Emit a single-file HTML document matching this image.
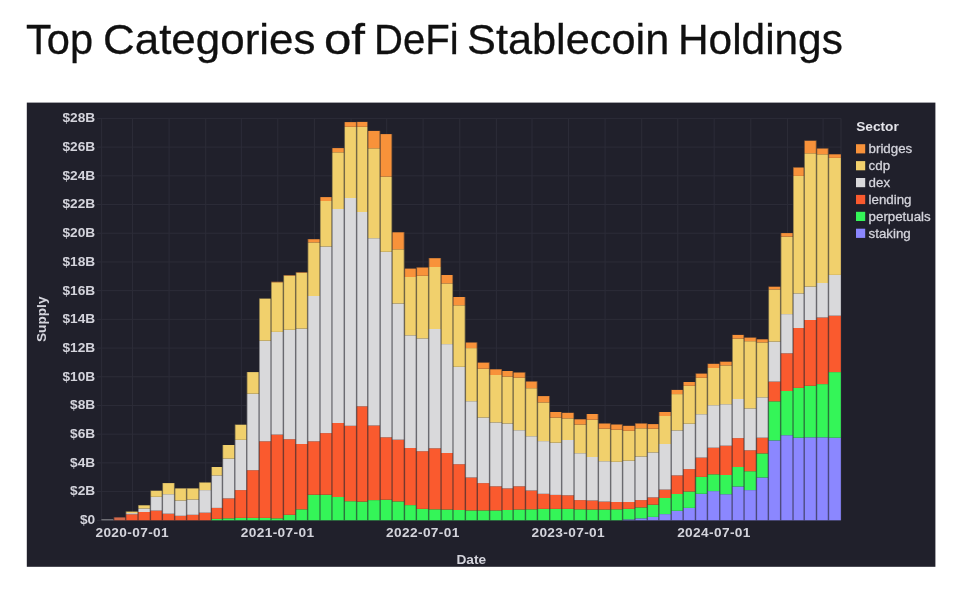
<!DOCTYPE html>
<html><head><meta charset="utf-8"><title>Top Categories of DeFi Stablecoin Holdings</title>
<style>
html,body{margin:0;padding:0;background:#ffffff;}
body{width:972px;height:597px;overflow:hidden;position:relative;font-family:"Liberation Sans",sans-serif;}
h1{margin:0;font-size:0;}
h1 span{position:absolute;top:14.2px;font:400 43px/50px "Liberation Sans",sans-serif;color:#101010;-webkit-text-stroke:0.3px #101010;white-space:nowrap;transform-origin:0 0;}
svg{position:absolute;left:0;top:0;filter:blur(0.6px);}
svg text{font-family:"Liberation Sans",sans-serif;}
</style></head><body>
<h1><span style="left:26.23px;transform:scaleX(0.9672)">Top</span> <span style="left:102.56px;transform:scaleX(1.0215)">Categories</span> <span style="left:324.41px;transform:scaleX(1.1441)">of</span> <span style="left:373.77px;transform:scaleX(0.9321)">DeFi</span> <span style="left:467.39px;transform:scaleX(1.0071)">Stablecoin</span> <span style="left:677.96px;transform:scaleX(0.9852)">Holdings</span></h1>
<svg width="972" height="597" viewBox="0 0 972 597">
<rect x="26.8" y="102.6" width="908.6" height="464.2" fill="#20202b"/>
<g stroke="#2c2c38" stroke-width="1" fill="none">
<line x1="97" x2="841" y1="520.30" y2="520.30"/>
<line x1="97" x2="841" y1="491.59" y2="491.59"/>
<line x1="97" x2="841" y1="462.89" y2="462.89"/>
<line x1="97" x2="841" y1="434.18" y2="434.18"/>
<line x1="97" x2="841" y1="405.47" y2="405.47"/>
<line x1="97" x2="841" y1="376.76" y2="376.76"/>
<line x1="97" x2="841" y1="348.06" y2="348.06"/>
<line x1="97" x2="841" y1="319.35" y2="319.35"/>
<line x1="97" x2="841" y1="290.64" y2="290.64"/>
<line x1="97" x2="841" y1="261.94" y2="261.94"/>
<line x1="97" x2="841" y1="233.23" y2="233.23"/>
<line x1="97" x2="841" y1="204.52" y2="204.52"/>
<line x1="97" x2="841" y1="175.81" y2="175.81"/>
<line x1="97" x2="841" y1="147.11" y2="147.11"/>
<line x1="97" x2="841" y1="118.40" y2="118.40"/>
<line x1="132.46" x2="132.46" y1="118.40" y2="520.30"/>
<line x1="169.09" x2="169.09" y1="118.40" y2="520.30"/>
<line x1="205.72" x2="205.72" y1="118.40" y2="520.30"/>
<line x1="241.36" x2="241.36" y1="118.40" y2="520.30"/>
<line x1="277.79" x2="277.79" y1="118.40" y2="520.30"/>
<line x1="314.42" x2="314.42" y1="118.40" y2="520.30"/>
<line x1="351.05" x2="351.05" y1="118.40" y2="520.30"/>
<line x1="386.69" x2="386.69" y1="118.40" y2="520.30"/>
<line x1="423.12" x2="423.12" y1="118.40" y2="520.30"/>
<line x1="459.75" x2="459.75" y1="118.40" y2="520.30"/>
<line x1="496.39" x2="496.39" y1="118.40" y2="520.30"/>
<line x1="532.02" x2="532.02" y1="118.40" y2="520.30"/>
<line x1="568.46" x2="568.46" y1="118.40" y2="520.30"/>
<line x1="605.09" x2="605.09" y1="118.40" y2="520.30"/>
<line x1="641.72" x2="641.72" y1="118.40" y2="520.30"/>
<line x1="677.75" x2="677.75" y1="118.40" y2="520.30"/>
<line x1="714.18" x2="714.18" y1="118.40" y2="520.30"/>
<line x1="750.82" x2="750.82" y1="118.40" y2="520.30"/>
<line x1="787.45" x2="787.45" y1="118.40" y2="520.30"/>
<line x1="823.08" x2="823.08" y1="118.40" y2="520.30"/>
<line x1="101.60" x2="101.60" y1="118.40" y2="520.30"/>
<line x1="841" x2="841" y1="118.40" y2="520.30"/>
</g>
<g shape-rendering="auto">
<rect x="101.40" y="519.30" width="12.39" height="1.00" fill="#8f8f92"/>
<rect x="113.74" y="517.40" width="12.00" height="2.90" fill="#d4694a"/>
<rect x="125.69" y="514.30" width="12.39" height="6.00" fill="#fa5a2e"/>
<rect x="125.69" y="513.10" width="12.39" height="1.20" fill="#d9d9db"/>
<rect x="125.69" y="511.60" width="12.39" height="1.50" fill="#f1d06c"/>
<rect x="138.03" y="512.00" width="12.39" height="8.30" fill="#fa5a2e"/>
<rect x="138.03" y="508.50" width="12.39" height="3.50" fill="#d9d9db"/>
<rect x="138.03" y="505.30" width="12.39" height="3.20" fill="#f1d06c"/>
<rect x="150.37" y="510.60" width="12.00" height="9.70" fill="#fa5a2e"/>
<rect x="150.37" y="496.80" width="12.00" height="13.80" fill="#d9d9db"/>
<rect x="150.37" y="490.70" width="12.00" height="6.10" fill="#f1d06c"/>
<rect x="162.32" y="513.70" width="12.39" height="6.60" fill="#fa5a2e"/>
<rect x="162.32" y="494.20" width="12.39" height="19.50" fill="#d9d9db"/>
<rect x="162.32" y="483.10" width="12.39" height="11.10" fill="#f1d06c"/>
<rect x="174.66" y="515.80" width="12.00" height="4.50" fill="#fa5a2e"/>
<rect x="174.66" y="500.50" width="12.00" height="15.30" fill="#d9d9db"/>
<rect x="174.66" y="488.40" width="12.00" height="12.10" fill="#f1d06c"/>
<rect x="186.61" y="514.80" width="12.39" height="5.50" fill="#fa5a2e"/>
<rect x="186.61" y="499.50" width="12.39" height="15.30" fill="#d9d9db"/>
<rect x="186.61" y="488.40" width="12.39" height="11.10" fill="#f1d06c"/>
<rect x="198.95" y="512.70" width="12.39" height="7.60" fill="#fa5a2e"/>
<rect x="198.95" y="490.10" width="12.39" height="22.60" fill="#d9d9db"/>
<rect x="198.95" y="482.50" width="12.39" height="7.60" fill="#f1d06c"/>
<rect x="211.29" y="518.90" width="11.20" height="1.40" fill="#34f558"/>
<rect x="211.29" y="507.90" width="11.20" height="11.00" fill="#fa5a2e"/>
<rect x="211.29" y="475.40" width="11.20" height="32.50" fill="#d9d9db"/>
<rect x="211.29" y="467.00" width="11.20" height="8.40" fill="#f1d06c"/>
<rect x="222.44" y="518.30" width="12.39" height="2.00" fill="#34f558"/>
<rect x="222.44" y="498.40" width="12.39" height="19.90" fill="#fa5a2e"/>
<rect x="222.44" y="458.60" width="12.39" height="39.80" fill="#d9d9db"/>
<rect x="222.44" y="445.00" width="12.39" height="13.60" fill="#f1d06c"/>
<rect x="234.79" y="517.90" width="12.00" height="2.40" fill="#34f558"/>
<rect x="234.79" y="490.10" width="12.00" height="27.80" fill="#fa5a2e"/>
<rect x="234.79" y="439.80" width="12.00" height="50.30" fill="#d9d9db"/>
<rect x="234.79" y="424.70" width="12.00" height="15.10" fill="#f1d06c"/>
<rect x="246.73" y="517.90" width="12.39" height="2.40" fill="#34f558"/>
<rect x="246.73" y="470.20" width="12.39" height="47.70" fill="#fa5a2e"/>
<rect x="246.73" y="393.70" width="12.39" height="76.50" fill="#d9d9db"/>
<rect x="246.73" y="372.10" width="12.39" height="21.60" fill="#f1d06c"/>
<rect x="259.07" y="517.90" width="12.00" height="2.40" fill="#34f558"/>
<rect x="259.07" y="441.30" width="12.00" height="76.60" fill="#fa5a2e"/>
<rect x="259.07" y="340.70" width="12.00" height="100.60" fill="#d9d9db"/>
<rect x="259.07" y="298.60" width="12.00" height="42.10" fill="#f1d06c"/>
<rect x="271.02" y="518.30" width="12.39" height="2.00" fill="#34f558"/>
<rect x="271.02" y="434.60" width="12.39" height="83.70" fill="#fa5a2e"/>
<rect x="271.02" y="331.90" width="12.39" height="102.70" fill="#d9d9db"/>
<rect x="271.02" y="282.30" width="12.39" height="49.60" fill="#f1d06c"/>
<rect x="271.02" y="281.80" width="12.39" height="0.50" fill="#f8923a"/>
<rect x="283.36" y="514.80" width="12.39" height="5.50" fill="#34f558"/>
<rect x="283.36" y="439.20" width="12.39" height="75.60" fill="#fa5a2e"/>
<rect x="283.36" y="329.80" width="12.39" height="109.40" fill="#d9d9db"/>
<rect x="283.36" y="275.70" width="12.39" height="54.10" fill="#f1d06c"/>
<rect x="283.36" y="275.20" width="12.39" height="0.50" fill="#f8923a"/>
<rect x="295.71" y="509.30" width="12.00" height="11.00" fill="#34f558"/>
<rect x="295.71" y="444.00" width="12.00" height="65.30" fill="#fa5a2e"/>
<rect x="295.71" y="328.60" width="12.00" height="115.40" fill="#d9d9db"/>
<rect x="295.71" y="272.80" width="12.00" height="55.80" fill="#f1d06c"/>
<rect x="295.71" y="272.30" width="12.00" height="0.50" fill="#f8923a"/>
<rect x="307.65" y="494.70" width="12.39" height="25.60" fill="#34f558"/>
<rect x="307.65" y="441.30" width="12.39" height="53.40" fill="#fa5a2e"/>
<rect x="307.65" y="296.00" width="12.39" height="145.30" fill="#d9d9db"/>
<rect x="307.65" y="242.40" width="12.39" height="53.60" fill="#f1d06c"/>
<rect x="307.65" y="239.20" width="12.39" height="3.20" fill="#f8923a"/>
<rect x="319.99" y="494.70" width="12.00" height="25.60" fill="#34f558"/>
<rect x="319.99" y="433.10" width="12.00" height="61.60" fill="#fa5a2e"/>
<rect x="319.99" y="246.50" width="12.00" height="186.60" fill="#d9d9db"/>
<rect x="319.99" y="201.00" width="12.00" height="45.50" fill="#f1d06c"/>
<rect x="319.99" y="197.10" width="12.00" height="3.90" fill="#f8923a"/>
<rect x="331.94" y="497.00" width="12.39" height="23.30" fill="#34f558"/>
<rect x="331.94" y="423.00" width="12.39" height="74.00" fill="#fa5a2e"/>
<rect x="331.94" y="209.00" width="12.39" height="214.00" fill="#d9d9db"/>
<rect x="331.94" y="152.30" width="12.39" height="56.70" fill="#f1d06c"/>
<rect x="331.94" y="148.10" width="12.39" height="4.20" fill="#f8923a"/>
<rect x="344.28" y="501.20" width="12.39" height="19.10" fill="#34f558"/>
<rect x="344.28" y="425.80" width="12.39" height="75.40" fill="#fa5a2e"/>
<rect x="344.28" y="198.00" width="12.39" height="227.80" fill="#d9d9db"/>
<rect x="344.28" y="126.80" width="12.39" height="71.20" fill="#f1d06c"/>
<rect x="344.28" y="122.10" width="12.39" height="4.70" fill="#f8923a"/>
<rect x="356.63" y="501.60" width="11.20" height="18.70" fill="#34f558"/>
<rect x="356.63" y="406.30" width="11.20" height="95.30" fill="#fa5a2e"/>
<rect x="356.63" y="212.00" width="11.20" height="194.30" fill="#d9d9db"/>
<rect x="356.63" y="126.80" width="11.20" height="85.20" fill="#f1d06c"/>
<rect x="356.63" y="121.90" width="11.20" height="4.90" fill="#f8923a"/>
<rect x="367.78" y="500.10" width="12.39" height="20.20" fill="#34f558"/>
<rect x="367.78" y="425.50" width="12.39" height="74.60" fill="#fa5a2e"/>
<rect x="367.78" y="238.20" width="12.39" height="187.30" fill="#d9d9db"/>
<rect x="367.78" y="148.30" width="12.39" height="89.90" fill="#f1d06c"/>
<rect x="367.78" y="130.90" width="12.39" height="17.40" fill="#f8923a"/>
<rect x="380.12" y="499.70" width="12.00" height="20.60" fill="#34f558"/>
<rect x="380.12" y="437.30" width="12.00" height="62.40" fill="#fa5a2e"/>
<rect x="380.12" y="251.80" width="12.00" height="185.50" fill="#d9d9db"/>
<rect x="380.12" y="176.60" width="12.00" height="75.20" fill="#f1d06c"/>
<rect x="380.12" y="134.10" width="12.00" height="42.50" fill="#f8923a"/>
<rect x="392.06" y="501.40" width="12.39" height="18.90" fill="#34f558"/>
<rect x="392.06" y="439.70" width="12.39" height="61.70" fill="#fa5a2e"/>
<rect x="392.06" y="303.50" width="12.39" height="136.20" fill="#d9d9db"/>
<rect x="392.06" y="249.30" width="12.39" height="54.20" fill="#f1d06c"/>
<rect x="392.06" y="232.30" width="12.39" height="17.00" fill="#f8923a"/>
<rect x="404.41" y="505.10" width="12.00" height="15.20" fill="#34f558"/>
<rect x="404.41" y="448.00" width="12.00" height="57.10" fill="#fa5a2e"/>
<rect x="404.41" y="335.30" width="12.00" height="112.70" fill="#d9d9db"/>
<rect x="404.41" y="277.00" width="12.00" height="58.30" fill="#f1d06c"/>
<rect x="404.41" y="268.60" width="12.00" height="8.40" fill="#f8923a"/>
<rect x="416.35" y="508.90" width="12.39" height="11.40" fill="#34f558"/>
<rect x="416.35" y="451.20" width="12.39" height="57.70" fill="#fa5a2e"/>
<rect x="416.35" y="338.40" width="12.39" height="112.80" fill="#d9d9db"/>
<rect x="416.35" y="275.80" width="12.39" height="62.60" fill="#f1d06c"/>
<rect x="416.35" y="267.50" width="12.39" height="8.30" fill="#f8923a"/>
<rect x="428.69" y="509.30" width="12.39" height="11.00" fill="#34f558"/>
<rect x="428.69" y="448.30" width="12.39" height="61.00" fill="#fa5a2e"/>
<rect x="428.69" y="329.00" width="12.39" height="119.30" fill="#d9d9db"/>
<rect x="428.69" y="267.00" width="12.39" height="62.00" fill="#f1d06c"/>
<rect x="428.69" y="258.20" width="12.39" height="8.80" fill="#f8923a"/>
<rect x="441.04" y="509.50" width="12.00" height="10.80" fill="#34f558"/>
<rect x="441.04" y="453.00" width="12.00" height="56.50" fill="#fa5a2e"/>
<rect x="441.04" y="344.10" width="12.00" height="108.90" fill="#d9d9db"/>
<rect x="441.04" y="283.40" width="12.00" height="60.70" fill="#f1d06c"/>
<rect x="441.04" y="275.00" width="12.00" height="8.40" fill="#f8923a"/>
<rect x="452.98" y="510.00" width="12.39" height="10.30" fill="#34f558"/>
<rect x="452.98" y="464.20" width="12.39" height="45.80" fill="#fa5a2e"/>
<rect x="452.98" y="366.80" width="12.39" height="97.40" fill="#d9d9db"/>
<rect x="452.98" y="305.30" width="12.39" height="61.50" fill="#f1d06c"/>
<rect x="452.98" y="297.00" width="12.39" height="8.30" fill="#f8923a"/>
<rect x="465.33" y="510.40" width="12.00" height="9.90" fill="#34f558"/>
<rect x="465.33" y="477.50" width="12.00" height="32.90" fill="#fa5a2e"/>
<rect x="465.33" y="401.20" width="12.00" height="76.30" fill="#d9d9db"/>
<rect x="465.33" y="348.10" width="12.00" height="53.10" fill="#f1d06c"/>
<rect x="465.33" y="342.50" width="12.00" height="5.60" fill="#f8923a"/>
<rect x="477.27" y="510.40" width="12.39" height="9.90" fill="#34f558"/>
<rect x="477.27" y="483.10" width="12.39" height="27.30" fill="#fa5a2e"/>
<rect x="477.27" y="417.50" width="12.39" height="65.60" fill="#d9d9db"/>
<rect x="477.27" y="368.70" width="12.39" height="48.80" fill="#f1d06c"/>
<rect x="477.27" y="362.60" width="12.39" height="6.10" fill="#f8923a"/>
<rect x="489.61" y="510.40" width="12.39" height="9.90" fill="#34f558"/>
<rect x="489.61" y="486.30" width="12.39" height="24.10" fill="#fa5a2e"/>
<rect x="489.61" y="422.40" width="12.39" height="63.90" fill="#d9d9db"/>
<rect x="489.61" y="375.00" width="12.39" height="47.40" fill="#f1d06c"/>
<rect x="489.61" y="369.30" width="12.39" height="5.70" fill="#f8923a"/>
<rect x="501.96" y="510.00" width="11.20" height="10.30" fill="#34f558"/>
<rect x="501.96" y="488.40" width="11.20" height="21.60" fill="#fa5a2e"/>
<rect x="501.96" y="423.50" width="11.20" height="64.90" fill="#d9d9db"/>
<rect x="501.96" y="376.60" width="11.20" height="46.90" fill="#f1d06c"/>
<rect x="501.96" y="371.00" width="11.20" height="5.60" fill="#f8923a"/>
<rect x="513.11" y="509.50" width="12.39" height="10.80" fill="#34f558"/>
<rect x="513.11" y="486.30" width="12.39" height="23.20" fill="#fa5a2e"/>
<rect x="513.11" y="430.20" width="12.39" height="56.10" fill="#d9d9db"/>
<rect x="513.11" y="377.70" width="12.39" height="52.50" fill="#f1d06c"/>
<rect x="513.11" y="372.50" width="12.39" height="5.20" fill="#f8923a"/>
<rect x="525.45" y="509.30" width="12.00" height="11.00" fill="#34f558"/>
<rect x="525.45" y="490.50" width="12.00" height="18.80" fill="#fa5a2e"/>
<rect x="525.45" y="436.20" width="12.00" height="54.30" fill="#d9d9db"/>
<rect x="525.45" y="388.20" width="12.00" height="48.00" fill="#f1d06c"/>
<rect x="525.45" y="381.50" width="12.00" height="6.70" fill="#f8923a"/>
<rect x="537.40" y="508.90" width="12.39" height="11.40" fill="#34f558"/>
<rect x="537.40" y="493.80" width="12.39" height="15.10" fill="#fa5a2e"/>
<rect x="537.40" y="441.10" width="12.39" height="52.70" fill="#d9d9db"/>
<rect x="537.40" y="402.40" width="12.39" height="38.70" fill="#f1d06c"/>
<rect x="537.40" y="396.10" width="12.39" height="6.30" fill="#f8923a"/>
<rect x="549.74" y="508.90" width="12.00" height="11.40" fill="#34f558"/>
<rect x="549.74" y="494.90" width="12.00" height="14.00" fill="#fa5a2e"/>
<rect x="549.74" y="442.70" width="12.00" height="52.20" fill="#d9d9db"/>
<rect x="549.74" y="417.60" width="12.00" height="25.10" fill="#f1d06c"/>
<rect x="549.74" y="412.00" width="12.00" height="5.60" fill="#f8923a"/>
<rect x="561.68" y="508.90" width="12.39" height="11.40" fill="#34f558"/>
<rect x="561.68" y="495.30" width="12.39" height="13.60" fill="#fa5a2e"/>
<rect x="561.68" y="440.00" width="12.39" height="55.30" fill="#d9d9db"/>
<rect x="561.68" y="418.40" width="12.39" height="21.60" fill="#f1d06c"/>
<rect x="561.68" y="412.80" width="12.39" height="5.60" fill="#f8923a"/>
<rect x="574.03" y="509.30" width="12.39" height="11.00" fill="#34f558"/>
<rect x="574.03" y="500.10" width="12.39" height="9.20" fill="#fa5a2e"/>
<rect x="574.03" y="453.20" width="12.39" height="46.90" fill="#d9d9db"/>
<rect x="574.03" y="424.50" width="12.39" height="28.70" fill="#f1d06c"/>
<rect x="574.03" y="419.30" width="12.39" height="5.20" fill="#f8923a"/>
<rect x="586.37" y="509.50" width="12.00" height="10.80" fill="#34f558"/>
<rect x="586.37" y="500.50" width="12.00" height="9.00" fill="#fa5a2e"/>
<rect x="586.37" y="457.00" width="12.00" height="43.50" fill="#d9d9db"/>
<rect x="586.37" y="419.70" width="12.00" height="37.30" fill="#f1d06c"/>
<rect x="586.37" y="414.00" width="12.00" height="5.70" fill="#f8923a"/>
<rect x="598.32" y="509.50" width="12.39" height="10.80" fill="#34f558"/>
<rect x="598.32" y="501.60" width="12.39" height="7.90" fill="#fa5a2e"/>
<rect x="598.32" y="461.20" width="12.39" height="40.40" fill="#d9d9db"/>
<rect x="598.32" y="428.70" width="12.39" height="32.50" fill="#f1d06c"/>
<rect x="598.32" y="423.50" width="12.39" height="5.20" fill="#f8923a"/>
<rect x="610.66" y="509.30" width="12.00" height="11.00" fill="#34f558"/>
<rect x="610.66" y="502.00" width="12.00" height="7.30" fill="#fa5a2e"/>
<rect x="610.66" y="461.80" width="12.00" height="40.20" fill="#d9d9db"/>
<rect x="610.66" y="429.70" width="12.00" height="32.10" fill="#f1d06c"/>
<rect x="610.66" y="424.50" width="12.00" height="5.20" fill="#f8923a"/>
<rect x="622.60" y="519.40" width="12.39" height="0.90" fill="#8b87ff"/>
<rect x="622.60" y="508.90" width="12.39" height="10.50" fill="#34f558"/>
<rect x="622.60" y="502.00" width="12.39" height="6.90" fill="#fa5a2e"/>
<rect x="622.60" y="460.70" width="12.39" height="41.30" fill="#d9d9db"/>
<rect x="622.60" y="430.80" width="12.39" height="29.90" fill="#f1d06c"/>
<rect x="622.60" y="425.80" width="12.39" height="5.00" fill="#f8923a"/>
<rect x="634.95" y="518.30" width="12.39" height="2.00" fill="#8b87ff"/>
<rect x="634.95" y="507.40" width="12.39" height="10.90" fill="#34f558"/>
<rect x="634.95" y="500.10" width="12.39" height="7.30" fill="#fa5a2e"/>
<rect x="634.95" y="456.50" width="12.39" height="43.60" fill="#d9d9db"/>
<rect x="634.95" y="428.30" width="12.39" height="28.20" fill="#f1d06c"/>
<rect x="634.95" y="423.50" width="12.39" height="4.80" fill="#f8923a"/>
<rect x="647.29" y="516.90" width="11.60" height="3.40" fill="#8b87ff"/>
<rect x="647.29" y="504.70" width="11.60" height="12.20" fill="#34f558"/>
<rect x="647.29" y="497.40" width="11.60" height="7.30" fill="#fa5a2e"/>
<rect x="647.29" y="452.40" width="11.60" height="45.00" fill="#d9d9db"/>
<rect x="647.29" y="428.70" width="11.60" height="23.70" fill="#f1d06c"/>
<rect x="647.29" y="424.10" width="11.60" height="4.60" fill="#f8923a"/>
<rect x="658.84" y="514.10" width="12.39" height="6.20" fill="#8b87ff"/>
<rect x="658.84" y="498.00" width="12.39" height="16.10" fill="#34f558"/>
<rect x="658.84" y="489.60" width="12.39" height="8.40" fill="#fa5a2e"/>
<rect x="658.84" y="444.00" width="12.39" height="45.60" fill="#d9d9db"/>
<rect x="658.84" y="416.00" width="12.39" height="28.00" fill="#f1d06c"/>
<rect x="658.84" y="412.00" width="12.39" height="4.00" fill="#f8923a"/>
<rect x="671.18" y="510.80" width="12.00" height="9.50" fill="#8b87ff"/>
<rect x="671.18" y="494.00" width="12.00" height="16.80" fill="#34f558"/>
<rect x="671.18" y="475.40" width="12.00" height="18.60" fill="#fa5a2e"/>
<rect x="671.18" y="430.40" width="12.00" height="45.00" fill="#d9d9db"/>
<rect x="671.18" y="394.10" width="12.00" height="36.30" fill="#f1d06c"/>
<rect x="671.18" y="389.90" width="12.00" height="4.20" fill="#f8923a"/>
<rect x="683.13" y="507.90" width="12.39" height="12.40" fill="#8b87ff"/>
<rect x="683.13" y="491.50" width="12.39" height="16.40" fill="#34f558"/>
<rect x="683.13" y="469.10" width="12.39" height="22.40" fill="#fa5a2e"/>
<rect x="683.13" y="423.70" width="12.39" height="45.40" fill="#d9d9db"/>
<rect x="683.13" y="385.80" width="12.39" height="37.90" fill="#f1d06c"/>
<rect x="683.13" y="382.00" width="12.39" height="3.80" fill="#f8923a"/>
<rect x="695.47" y="493.80" width="12.00" height="26.50" fill="#8b87ff"/>
<rect x="695.47" y="476.90" width="12.00" height="16.90" fill="#34f558"/>
<rect x="695.47" y="457.60" width="12.00" height="19.30" fill="#fa5a2e"/>
<rect x="695.47" y="414.20" width="12.00" height="43.40" fill="#d9d9db"/>
<rect x="695.47" y="377.80" width="12.00" height="36.40" fill="#f1d06c"/>
<rect x="695.47" y="373.60" width="12.00" height="4.20" fill="#f8923a"/>
<rect x="707.41" y="491.10" width="12.39" height="29.20" fill="#8b87ff"/>
<rect x="707.41" y="474.30" width="12.39" height="16.80" fill="#34f558"/>
<rect x="707.41" y="447.70" width="12.39" height="26.60" fill="#fa5a2e"/>
<rect x="707.41" y="405.20" width="12.39" height="42.50" fill="#d9d9db"/>
<rect x="707.41" y="368.00" width="12.39" height="37.20" fill="#f1d06c"/>
<rect x="707.41" y="363.80" width="12.39" height="4.20" fill="#f8923a"/>
<rect x="719.76" y="494.20" width="12.39" height="26.10" fill="#8b87ff"/>
<rect x="719.76" y="475.00" width="12.39" height="19.20" fill="#34f558"/>
<rect x="719.76" y="445.70" width="12.39" height="29.30" fill="#fa5a2e"/>
<rect x="719.76" y="404.20" width="12.39" height="41.50" fill="#d9d9db"/>
<rect x="719.76" y="365.40" width="12.39" height="38.80" fill="#f1d06c"/>
<rect x="719.76" y="361.70" width="12.39" height="3.70" fill="#f8923a"/>
<rect x="732.10" y="486.50" width="12.00" height="33.80" fill="#8b87ff"/>
<rect x="732.10" y="467.00" width="12.00" height="19.50" fill="#34f558"/>
<rect x="732.10" y="438.10" width="12.00" height="28.90" fill="#fa5a2e"/>
<rect x="732.10" y="399.00" width="12.00" height="39.10" fill="#d9d9db"/>
<rect x="732.10" y="338.60" width="12.00" height="60.40" fill="#f1d06c"/>
<rect x="732.10" y="334.90" width="12.00" height="3.70" fill="#f8923a"/>
<rect x="744.04" y="490.10" width="12.39" height="30.20" fill="#8b87ff"/>
<rect x="744.04" y="471.20" width="12.39" height="18.90" fill="#34f558"/>
<rect x="744.04" y="450.30" width="12.39" height="20.90" fill="#fa5a2e"/>
<rect x="744.04" y="408.40" width="12.39" height="41.90" fill="#d9d9db"/>
<rect x="744.04" y="341.20" width="12.39" height="67.20" fill="#f1d06c"/>
<rect x="744.04" y="337.60" width="12.39" height="3.60" fill="#f8923a"/>
<rect x="756.39" y="477.50" width="12.00" height="42.80" fill="#8b87ff"/>
<rect x="756.39" y="453.40" width="12.00" height="24.10" fill="#34f558"/>
<rect x="756.39" y="437.70" width="12.00" height="15.70" fill="#fa5a2e"/>
<rect x="756.39" y="397.30" width="12.00" height="40.40" fill="#d9d9db"/>
<rect x="756.39" y="342.40" width="12.00" height="54.90" fill="#f1d06c"/>
<rect x="756.39" y="339.30" width="12.00" height="3.10" fill="#f8923a"/>
<rect x="768.33" y="440.40" width="12.39" height="79.90" fill="#8b87ff"/>
<rect x="768.33" y="401.30" width="12.39" height="39.10" fill="#34f558"/>
<rect x="768.33" y="381.60" width="12.39" height="19.70" fill="#fa5a2e"/>
<rect x="768.33" y="341.60" width="12.39" height="40.00" fill="#d9d9db"/>
<rect x="768.33" y="289.40" width="12.39" height="52.20" fill="#f1d06c"/>
<rect x="768.33" y="286.70" width="12.39" height="2.70" fill="#f8923a"/>
<rect x="780.68" y="435.20" width="12.39" height="85.10" fill="#8b87ff"/>
<rect x="780.68" y="391.00" width="12.39" height="44.20" fill="#34f558"/>
<rect x="780.68" y="353.30" width="12.39" height="37.70" fill="#fa5a2e"/>
<rect x="780.68" y="314.10" width="12.39" height="39.20" fill="#d9d9db"/>
<rect x="780.68" y="236.60" width="12.39" height="77.50" fill="#f1d06c"/>
<rect x="780.68" y="233.10" width="12.39" height="3.50" fill="#f8923a"/>
<rect x="793.02" y="437.70" width="11.20" height="82.60" fill="#8b87ff"/>
<rect x="793.02" y="387.90" width="11.20" height="49.80" fill="#34f558"/>
<rect x="793.02" y="328.00" width="11.20" height="59.90" fill="#fa5a2e"/>
<rect x="793.02" y="293.40" width="11.20" height="34.60" fill="#d9d9db"/>
<rect x="793.02" y="175.90" width="11.20" height="117.50" fill="#f1d06c"/>
<rect x="793.02" y="167.50" width="11.20" height="8.40" fill="#f8923a"/>
<rect x="804.17" y="437.30" width="12.39" height="83.00" fill="#8b87ff"/>
<rect x="804.17" y="385.80" width="12.39" height="51.50" fill="#34f558"/>
<rect x="804.17" y="320.00" width="12.39" height="65.80" fill="#fa5a2e"/>
<rect x="804.17" y="286.60" width="12.39" height="33.40" fill="#d9d9db"/>
<rect x="804.17" y="153.30" width="12.39" height="133.30" fill="#f1d06c"/>
<rect x="804.17" y="140.70" width="12.39" height="12.60" fill="#f8923a"/>
<rect x="816.51" y="437.30" width="12.00" height="83.00" fill="#8b87ff"/>
<rect x="816.51" y="384.10" width="12.00" height="53.20" fill="#34f558"/>
<rect x="816.51" y="317.50" width="12.00" height="66.60" fill="#fa5a2e"/>
<rect x="816.51" y="283.00" width="12.00" height="34.50" fill="#d9d9db"/>
<rect x="816.51" y="154.30" width="12.00" height="128.70" fill="#f1d06c"/>
<rect x="816.51" y="148.50" width="12.00" height="5.80" fill="#f8923a"/>
<rect x="828.46" y="437.70" width="12.39" height="82.60" fill="#8b87ff"/>
<rect x="828.46" y="372.10" width="12.39" height="65.60" fill="#34f558"/>
<rect x="828.46" y="315.70" width="12.39" height="56.40" fill="#fa5a2e"/>
<rect x="828.46" y="274.90" width="12.39" height="40.80" fill="#d9d9db"/>
<rect x="828.46" y="157.90" width="12.39" height="117.00" fill="#f1d06c"/>
<rect x="828.46" y="154.30" width="12.39" height="3.60" fill="#f8923a"/>
</g>
<g stroke="#26262e" stroke-width="1.5" stroke-opacity="0.52">
<line x1="113.74" x2="113.74" y1="517.40" y2="520.30"/>
<line x1="125.69" x2="125.69" y1="511.60" y2="520.30"/>
<line x1="138.03" x2="138.03" y1="505.30" y2="520.30"/>
<line x1="150.37" x2="150.37" y1="490.70" y2="520.30"/>
<line x1="162.32" x2="162.32" y1="483.10" y2="520.30"/>
<line x1="174.66" x2="174.66" y1="483.10" y2="520.30"/>
<line x1="186.61" x2="186.61" y1="488.40" y2="520.30"/>
<line x1="198.95" x2="198.95" y1="482.50" y2="520.30"/>
<line x1="211.29" x2="211.29" y1="467.00" y2="520.30"/>
<line x1="222.44" x2="222.44" y1="445.00" y2="520.30"/>
<line x1="234.79" x2="234.79" y1="424.70" y2="520.30"/>
<line x1="246.73" x2="246.73" y1="372.10" y2="520.30"/>
<line x1="259.07" x2="259.07" y1="298.60" y2="520.30"/>
<line x1="271.02" x2="271.02" y1="281.80" y2="520.30"/>
<line x1="283.36" x2="283.36" y1="275.20" y2="520.30"/>
<line x1="295.71" x2="295.71" y1="272.30" y2="520.30"/>
<line x1="307.65" x2="307.65" y1="239.20" y2="520.30"/>
<line x1="319.99" x2="319.99" y1="197.10" y2="520.30"/>
<line x1="331.94" x2="331.94" y1="148.10" y2="520.30"/>
<line x1="344.28" x2="344.28" y1="122.10" y2="520.30"/>
<line x1="356.63" x2="356.63" y1="121.90" y2="520.30"/>
<line x1="367.78" x2="367.78" y1="121.90" y2="520.30"/>
<line x1="380.12" x2="380.12" y1="130.90" y2="520.30"/>
<line x1="392.06" x2="392.06" y1="134.10" y2="520.30"/>
<line x1="404.41" x2="404.41" y1="232.30" y2="520.30"/>
<line x1="416.35" x2="416.35" y1="267.50" y2="520.30"/>
<line x1="428.69" x2="428.69" y1="258.20" y2="520.30"/>
<line x1="441.04" x2="441.04" y1="258.20" y2="520.30"/>
<line x1="452.98" x2="452.98" y1="275.00" y2="520.30"/>
<line x1="465.33" x2="465.33" y1="297.00" y2="520.30"/>
<line x1="477.27" x2="477.27" y1="342.50" y2="520.30"/>
<line x1="489.61" x2="489.61" y1="362.60" y2="520.30"/>
<line x1="501.96" x2="501.96" y1="369.30" y2="520.30"/>
<line x1="513.11" x2="513.11" y1="371.00" y2="520.30"/>
<line x1="525.45" x2="525.45" y1="372.50" y2="520.30"/>
<line x1="537.40" x2="537.40" y1="381.50" y2="520.30"/>
<line x1="549.74" x2="549.74" y1="396.10" y2="520.30"/>
<line x1="561.68" x2="561.68" y1="412.00" y2="520.30"/>
<line x1="574.03" x2="574.03" y1="412.80" y2="520.30"/>
<line x1="586.37" x2="586.37" y1="414.00" y2="520.30"/>
<line x1="598.32" x2="598.32" y1="414.00" y2="520.30"/>
<line x1="610.66" x2="610.66" y1="423.50" y2="520.30"/>
<line x1="622.60" x2="622.60" y1="424.50" y2="520.30"/>
<line x1="634.95" x2="634.95" y1="423.50" y2="520.30"/>
<line x1="647.29" x2="647.29" y1="423.50" y2="520.30"/>
<line x1="658.84" x2="658.84" y1="412.00" y2="520.30"/>
<line x1="671.18" x2="671.18" y1="389.90" y2="520.30"/>
<line x1="683.13" x2="683.13" y1="382.00" y2="520.30"/>
<line x1="695.47" x2="695.47" y1="373.60" y2="520.30"/>
<line x1="707.41" x2="707.41" y1="363.80" y2="520.30"/>
<line x1="719.76" x2="719.76" y1="361.70" y2="520.30"/>
<line x1="732.10" x2="732.10" y1="334.90" y2="520.30"/>
<line x1="744.04" x2="744.04" y1="334.90" y2="520.30"/>
<line x1="756.39" x2="756.39" y1="337.60" y2="520.30"/>
<line x1="768.33" x2="768.33" y1="286.70" y2="520.30"/>
<line x1="780.68" x2="780.68" y1="233.10" y2="520.30"/>
<line x1="793.02" x2="793.02" y1="167.50" y2="520.30"/>
<line x1="804.17" x2="804.17" y1="140.70" y2="520.30"/>
<line x1="816.51" x2="816.51" y1="140.70" y2="520.30"/>
<line x1="828.46" x2="828.46" y1="148.50" y2="520.30"/>
</g>
<g font-size="13.7" font-weight="700" fill="#d4d4dc">
<text x="95.2" y="524.20" text-anchor="end">$0</text>
<text x="95.2" y="495.49" text-anchor="end">$2B</text>
<text x="95.2" y="466.79" text-anchor="end">$4B</text>
<text x="95.2" y="438.08" text-anchor="end">$6B</text>
<text x="95.2" y="409.37" text-anchor="end">$8B</text>
<text x="95.2" y="380.66" text-anchor="end">$10B</text>
<text x="95.2" y="351.96" text-anchor="end">$12B</text>
<text x="95.2" y="323.25" text-anchor="end">$14B</text>
<text x="95.2" y="294.54" text-anchor="end">$16B</text>
<text x="95.2" y="265.84" text-anchor="end">$18B</text>
<text x="95.2" y="237.13" text-anchor="end">$20B</text>
<text x="95.2" y="208.42" text-anchor="end">$22B</text>
<text x="95.2" y="179.71" text-anchor="end">$24B</text>
<text x="95.2" y="151.01" text-anchor="end">$26B</text>
<text x="95.2" y="122.30" text-anchor="end">$28B</text>
<text x="132.06" y="537.2" text-anchor="middle" textLength="73.3" lengthAdjust="spacing">2020-07-01</text>
<text x="277.39" y="537.2" text-anchor="middle" textLength="73.3" lengthAdjust="spacing">2021-07-01</text>
<text x="422.72" y="537.2" text-anchor="middle" textLength="73.3" lengthAdjust="spacing">2022-07-01</text>
<text x="568.06" y="537.2" text-anchor="middle" textLength="73.3" lengthAdjust="spacing">2023-07-01</text>
<text x="713.78" y="537.2" text-anchor="middle" textLength="73.3" lengthAdjust="spacing">2024-07-01</text>
<text x="471.3" y="564.1" text-anchor="middle">Date</text>
<text transform="translate(45.6,319.3) rotate(-90)" text-anchor="middle">Supply</text>
<text x="856.2" y="130.8" fill="#e4e4ea">Sector</text>
</g>
<g font-size="13.3" fill="#d4d4dc" stroke="#d4d4dc" stroke-width="0.3">
<rect x="856" y="144.2" width="9.2" height="9.2" fill="#f8923a" stroke="none"/>
<text x="868.6" y="153.2">bridges</text>
<rect x="856" y="161.1" width="9.2" height="9.2" fill="#f1d06c" stroke="none"/>
<text x="868.6" y="170.1">cdp</text>
<rect x="856" y="178.0" width="9.2" height="9.2" fill="#d9d9db" stroke="none"/>
<text x="868.6" y="187.0">dex</text>
<rect x="856" y="194.9" width="9.2" height="9.2" fill="#fa5a2e" stroke="none"/>
<text x="868.6" y="203.9">lending</text>
<rect x="856" y="211.8" width="9.2" height="9.2" fill="#34f558" stroke="none"/>
<text x="868.6" y="220.8">perpetuals</text>
<rect x="856" y="228.7" width="9.2" height="9.2" fill="#8b87ff" stroke="none"/>
<text x="868.6" y="237.7">staking</text>
</g>
</svg>
</body></html>
